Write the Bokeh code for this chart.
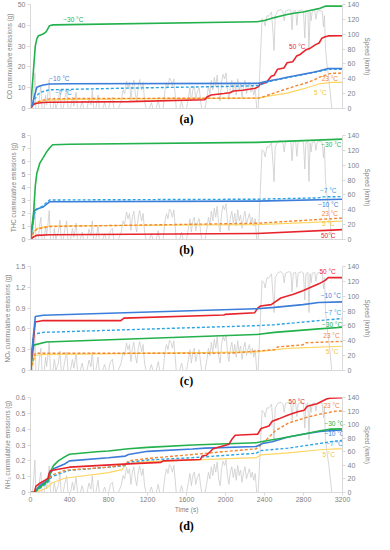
from bokeh.plotting import figure
from bokeh.models import Range1d, LinearAxis, FixedTicker, Label, Title, CustomJSTickFormatter
from bokeh.layouts import column
from bokeh.embed import file_html
from bokeh.resources import INLINE

# ---------------- speed trace (shared by all panels) ----------------
SPEED_T = [0, 20, 35, 45, 55, 80, 95, 107, 118, 140, 155, 165, 180, 192, 205, 230, 245, 260, 285, 302,
           315, 335, 350, 371, 385, 410, 430, 445, 468, 482, 510, 530, 545, 580, 600, 620, 634, 648, 670, 693,
           705, 740, 760, 775, 800, 820, 840, 855, 900, 930, 950, 965, 985, 1000, 1015, 1030, 1045, 1060, 1075, 1090,
           1105, 1120, 1140, 1155, 1170, 1185, 1220, 1240, 1255, 1290, 1310, 1325, 1360, 1380, 1395, 1410, 1425, 1440, 1455, 1470,
           1483, 1495, 1530, 1550, 1565, 1600, 1620, 1635, 1650, 1665, 1680, 1695, 1710, 1730, 1745, 1756, 1790, 1810, 1825, 1840,
           1855, 1870, 1885, 1900, 1915, 1930, 1945, 1960, 1975, 1990, 2005, 2020, 2035, 2050, 2065, 2080, 2095, 2110, 2125, 2140,
           2155, 2170, 2185, 2200, 2215, 2230, 2245, 2260, 2275, 2290, 2305, 2320, 2335, 2355, 2375, 2395, 2407, 2425, 2440, 2472,
           2488, 2498, 2510, 2540, 2570, 2590, 2602, 2615, 2650, 2670, 2683, 2695, 2720, 2732, 2745, 2780, 2800, 2813, 2825, 2845,
           2856, 2868, 2878, 2890, 2915, 2927, 2940, 2970, 2992, 3005, 3015, 3025, 3040, 3060, 3090, 3200]
SPEED = [0, 0, 25, 48, 0, 0, 20, 30, 0, 0, 18, 5, 22, 39, 0, 0, 15, 0, 10, 26,
         0, 0, 12, 25, 0, 0, 15, 3, 22, 0, 0, 10, 0, 0, 14, 5, 25, 0, 0, 18,
         0, 0, 8, 0, 0, 12, 15, 0, 0, 10, 25, 20, 37, 28, 35, 12, 30, 38, 20, 10,
         30, 39, 25, 35, 10, 0, 0, 8, 0, 0, 12, 0, 0, 25, 35, 28, 41, 38, 30, 40,
         20, 0, 0, 10, 0, 0, 15, 28, 10, 25, 30, 12, 22, 28, 10, 0, 0, 15, 30, 20,
         38, 25, 42, 30, 45, 20, 10, 35, 46, 40, 48, 25, 12, 30, 38, 22, 35, 18, 40, 25,
         33, 15, 30, 38, 20, 28, 35, 22, 30, 18, 28, 0, 0, 60, 121, 118, 111, 125, 124, 130,
         100, 78, 125, 132, 133, 130, 118, 131, 133, 132, 106, 131, 132, 112, 131, 133, 131, 95, 130, 132,
         78, 130, 118, 131, 132, 120, 131, 132, 131, 110, 125, 81, 60, 40, 0, 0]

# ---------------- (a) CO ----------------
CO_M30_T = [0, 25, 49, 65, 81, 110, 130, 162, 195, 230, 2323, 2400, 2502, 2567, 2632, 2700, 2794, 2900, 2957, 3022, 3200]
CO_M30 = [0, 15, 30, 33.5, 35, 35.5, 35.8, 37, 39.8, 40.2, 41.7, 42.3, 43.7, 44.5, 45.2, 45.8, 46.4, 47.5, 48, 49.2, 49.2]
CO_M10_T = [0, 20, 40, 65, 97, 130, 195, 400, 2339, 2400, 2469, 2550, 2632, 2700, 2794, 2900, 2957, 3054, 3200]
CO_M10 = [0, 2, 6, 10.2, 10.8, 11.3, 11.8, 11.9, 12.1, 12.8, 13.5, 14.2, 15, 15.6, 16.5, 17.4, 18, 19.2, 19.2]
CO_M7_T = [0, 30, 49, 81, 110, 195, 400, 1000, 2000, 2339, 2400, 2469, 2632, 2794, 2957, 3054, 3200]
CO_M7 = [0, 2.5, 5, 7, 7.9, 9, 9.2, 9.8, 10.6, 11, 12, 13.2, 14.8, 16.3, 17.8, 18.8, 18.8]
CO_P23_T = [0, 32, 65, 130, 195, 400, 2339, 2400, 2469, 2534, 2632, 2729, 2794, 2900, 2957, 3054, 3087, 3200]
CO_P23 = [0, 2, 3, 4, 4.6, 4.8, 5, 5.8, 7, 8, 9.5, 11, 11.8, 13.5, 15, 16.5, 16.9, 17]
CO_P5_T = [0, 32, 65, 130, 195, 400, 2339, 2469, 2632, 2794, 2957, 3087, 3200]
CO_P5 = [0, 2, 3, 3.6, 4, 4.4, 5, 6.2, 7.4, 9.4, 11.8, 12.6, 12.6]
CO_P50_T = [0, 32, 65, 130, 195, 1007, 1787, 1810, 1852, 1982, 2047, 2079, 2177, 2307, 2339, 2356, 2420, 2469, 2500,
            2534, 2600, 2632, 2690, 2729, 2760, 2827, 2870, 2924, 2960, 2989, 3022, 3054, 3200]
CO_P50 = [0, 2, 2.5, 2.9, 3, 3.3, 4.2, 5.5, 6.5, 7.2, 7.6, 8.4, 8.8, 9.7, 10.5, 11.8, 12.5, 15.5, 16,
          18.9, 19.5, 22, 22.5, 25.2, 25.8, 28.3, 29, 30.7, 31.5, 33.8, 34.5, 34.9, 35]

# ---------------- (b) THC ----------------
THC_M30_T = [0, 32, 49, 65, 97, 130, 162, 195, 227, 400, 2323, 3200]
THC_M30 = [0, 2.1, 4.1, 5.1, 5.9, 6.3, 6.7, 7.04, 7.29, 7.33, 7.47, 7.72]
THC_M7_T = [0, 25, 40, 65, 130, 195, 2323, 2950, 3000, 3200]
THC_M7 = [0, 1.2, 2.0, 2.3, 2.6, 3.04, 3.1, 3.2, 3.28, 3.3]
THC_M10_T = [0, 25, 40, 65, 130, 195, 2323, 3200]
THC_M10 = [0, 1.4, 2.2, 2.35, 2.5, 2.9, 2.95, 3.1]
THC_P23_T = [0, 30, 65, 130, 195, 2323, 3200]
THC_P23 = [0, 0.5, 0.8, 0.9, 1.0, 1.25, 1.65]
THC_P5_T = [0, 30, 65, 130, 195, 2323, 3200]
THC_P5 = [0, 0.6, 0.85, 0.95, 1.04, 1.15, 1.42]
THC_P50_T = [0, 30, 65, 195, 2323, 3200]
THC_P50 = [0, 0.2, 0.32, 0.36, 0.46, 0.76]

# ---------------- (c) NOx ----------------
NOX_M10_T = [0, 16, 49, 130, 2323, 2502, 2794, 2957, 3200]
NOX_M10 = [0, 0.3, 0.778, 0.797, 0.89, 0.91, 0.95, 0.98, 0.99]
NOX_P50_T = [0, 16, 49, 130, 926, 958, 1982, 2000, 2300, 2330, 2360, 2469, 2567, 2697, 2794, 2875, 2957, 3022, 3054, 3200]
NOX_P50 = [0, 0.25, 0.70, 0.72, 0.72, 0.755, 0.8, 0.81, 0.834, 0.9, 0.93, 0.95, 1.046, 1.10, 1.15, 1.2, 1.25, 1.30, 1.34, 1.34]
NOX_M7_T = [0, 32, 130, 2323, 2502, 2957, 3200]
NOX_M7 = [0, 0.525, 0.55, 0.647, 0.66, 0.72, 0.75]
NOX_M30_T = [0, 32, 162, 2323, 2502, 2957, 3200]
NOX_M30 = [0, 0.366, 0.41, 0.52, 0.55, 0.6, 0.623]
NOX_P23_T = [0, 49, 2047, 2323, 2502, 2534, 2794, 2827, 3200]
NOX_P23 = [0, 0.248, 0.25, 0.28, 0.30, 0.34, 0.37, 0.40, 0.42]
NOX_P5_T = [0, 49, 130, 2323, 2632, 3200]
NOX_P5 = [0, 0.22, 0.23, 0.27, 0.32, 0.35]

# ---------------- (d) NH3 ----------------
NH3_P50_T = [0, 39, 56, 100, 154, 180, 190, 203, 285, 400, 678, 1005, 1333, 1366, 1742, 1760, 1805, 1873, 2036, 2070,
             2100, 2330, 2365, 2446, 2479, 2545, 2643, 2741, 2807, 2839, 2938, 2970, 3036, 3069, 3200]
NH3_P50 = [0, 0, 0.04, 0.06, 0.08, 0.09, 0.12, 0.137, 0.147, 0.16, 0.17, 0.181, 0.19, 0.2, 0.208, 0.23, 0.235, 0.276, 0.305, 0.34,
           0.362, 0.368, 0.404, 0.42, 0.45, 0.465, 0.49, 0.51, 0.52, 0.545, 0.56, 0.57, 0.59, 0.596, 0.598]
NH3_M30_T = [0, 39, 88, 154, 187, 203, 236, 285, 350, 400, 678, 799, 1005, 1202, 1660, 2315, 2365, 2479, 2545, 2643, 2807, 2970, 3069, 3200]
NH3_M30 = [0, 0, 0.03, 0.06, 0.08, 0.13, 0.17, 0.2, 0.225, 0.242, 0.257, 0.262, 0.276, 0.285, 0.3, 0.314, 0.32, 0.333, 0.34, 0.35, 0.37, 0.39, 0.40, 0.402]
NH3_M10_T = [0, 39, 88, 154, 187, 203, 236, 350, 400, 799, 973, 1005, 1202, 1660, 1791, 2315, 2381, 2479, 2643, 2807, 2970, 3069, 3200]
NH3_M10 = [0, 0, 0.04, 0.07, 0.09, 0.12, 0.15, 0.18, 0.2, 0.219, 0.23, 0.24, 0.26, 0.275, 0.28, 0.291, 0.31, 0.32, 0.35, 0.37, 0.385, 0.39, 0.395]
NH3_M7_T = [0, 39, 105, 170, 187, 219, 350, 400, 799, 973, 1005, 1202, 1660, 2315, 2365, 2643, 2970, 3069, 3200]
NH3_M7 = [0, 0, 0.03, 0.06, 0.07, 0.1, 0.13, 0.14, 0.16, 0.17, 0.19, 0.205, 0.22, 0.248, 0.265, 0.28, 0.31, 0.32, 0.33]
NH3_P23_T = [0, 39, 105, 170, 187, 219, 350, 799, 973, 1005, 1202, 1660, 2315, 2381, 2512, 2643, 2839, 2970, 3134, 3200]
NH3_P23 = [0, 0, 0.04, 0.075, 0.09, 0.11, 0.14, 0.16, 0.175, 0.2, 0.215, 0.24, 0.276, 0.31, 0.39, 0.438, 0.476, 0.495, 0.514, 0.515]
NH3_P5_T = [0, 56, 170, 219, 350, 799, 940, 976, 1202, 2315, 2365, 2643, 2970, 3134, 3200]
NH3_P5 = [0, 0, 0.03, 0.06, 0.09, 0.125, 0.145, 0.18, 0.195, 0.22, 0.238, 0.25, 0.27, 0.276, 0.276]

TIME_TICKS = [0, 400, 800, 1200, 1600, 2000, 2400, 2800, 3200]
SPEED_TICKS = [0, 20, 40, 60, 80, 100, 120, 140]

# ---------------- styling ----------------
GREEN = "#22b14c"
RED = "#e8242b"
BLUE = "#3b7dd8"
LBLUE = "#2ba4e6"
ORANGE = "#f3862e"
YELLOW = "#fdd663"
YELLOW_TXT = "#f5c342"
AXIS_GRAY = "#d9d9d9"
TEXT_GRAY = "#7f7f7f"
FONT = "Liberation Sans"

W = 374
fmt = CustomJSTickFormatter(code="return String(+tick.toFixed(2));")


def panel(height, ymax, yticks, ylabel, caption, series, labels, bottom_labels, border_bottom):
    p = figure(width=W, height=height, x_range=Range1d(0, 3200), y_range=Range1d(0, ymax),
               output_backend="svg", toolbar_location=None,
               min_border_left=22, min_border_right=26, min_border_top=4, min_border_bottom=border_bottom)
    p.title.visible = False
    p.outline_line_color = None
    p.xgrid.visible = False
    p.ygrid.visible = False
    p.extra_y_ranges = {"speed": Range1d(0, 140)}

    # speed trace first (behind)
    p.line(SPEED_T, SPEED, y_range_name="speed", line_color="#cccccc", line_width=0.8)

    for t, v, col, dash, lw in series:
        p.line(t, v, line_color=col, line_dash=dash, line_width=lw)

    for txt, x, y, col in labels:
        p.add_layout(Label(x=x, y=y, text=txt, text_align="center", text_baseline="middle",
                           text_font=FONT, text_font_size="6.5px", text_color=col))

    ya = p.yaxis[0]
    ya.ticker = FixedTicker(ticks=yticks)
    ya.formatter = fmt
    ya.axis_label = ylabel

    ra = LinearAxis(y_range_name="speed", ticker=FixedTicker(ticks=SPEED_TICKS),
                    axis_label="Speed (km/h)")
    p.add_layout(ra, "right")

    for ax in [ya, ra]:
        ax.axis_line_color = AXIS_GRAY
        ax.major_tick_line_color = AXIS_GRAY
        ax.minor_tick_line_color = None
        ax.major_tick_out = 3
        ax.major_tick_in = 0
        ax.major_label_standoff = 2
        ax.major_label_text_font = FONT
        ax.major_label_text_font_size = "7px"
        ax.major_label_text_color = TEXT_GRAY
        ax.axis_label_text_font = FONT
        ax.axis_label_text_font_size = "6.3px"
        ax.axis_label_text_font_style = "normal"
        ax.axis_label_text_color = TEXT_GRAY
        ax.axis_label_standoff = 2

    xa = p.xaxis[0]
    xa.axis_line_color = AXIS_GRAY
    xa.minor_tick_line_color = None
    if bottom_labels:
        xa.ticker = FixedTicker(ticks=TIME_TICKS)
        xa.formatter = fmt
        xa.major_tick_line_color = AXIS_GRAY
        xa.major_tick_out = 3
        xa.major_tick_in = 0
        xa.major_label_standoff = 1
        xa.major_label_text_font = FONT
        xa.major_label_text_font_size = "7px"
        xa.major_label_text_color = TEXT_GRAY
        xa.axis_label = "Time (s)"
        xa.axis_label_text_font = FONT
        xa.axis_label_text_font_size = "6.5px"
        xa.axis_label_text_font_style = "normal"
        xa.axis_label_text_color = TEXT_GRAY
        xa.axis_label_standoff = 1
    else:
        xa.ticker = FixedTicker(ticks=[])
        xa.major_tick_line_color = None
        xa.major_label_standoff = 0
        xa.major_tick_out = 0

    p.add_layout(Title(text=caption, align="center", text_font="Liberation Serif", text_font_style="bold",
                       text_font_size="12px", text_color="#000000", standoff=3), "below")
    return p


SOLID = "solid"
DASH = "3 2"

pa = panel(131, 50, [0, 10, 20, 30, 40, 50], "CO cummulative emissions (g)", "(a)",
           [(CO_P5_T, CO_P5, YELLOW, SOLID, 1.2), (CO_P23_T, CO_P23, ORANGE, DASH, 1.4),
            (CO_P50_T, CO_P50, RED, SOLID, 1.6), (CO_M7_T, CO_M7, LBLUE, DASH, 1.4),
            (CO_M10_T, CO_M10, BLUE, SOLID, 1.6), (CO_M30_T, CO_M30, GREEN, SOLID, 1.6)],
           [("\u221230 \u00b0C", 439, 42.9, GREEN), ("50 \u00b0C", 2736, 29.9, RED),
            ("\u221210 \u00b0C", 296, 14.5, BLUE), ("\u22127 \u00b0C", 338, 7.7, LBLUE),
            ("23 \u00b0C", 3070, 14.6, ORANGE), ("5 \u00b0C", 2973, 7.5, YELLOW_TXT)],
           False, 23)

pb = panel(131, 8, [0, 1, 2, 3, 4, 5, 6, 7, 8], "THC cummulative emissions (g)", "(b)",
           [(THC_P5_T, THC_P5, YELLOW, SOLID, 1.2), (THC_P23_T, THC_P23, ORANGE, DASH, 1.4),
            (THC_P50_T, THC_P50, RED, SOLID, 1.6), (THC_M10_T, THC_M10, BLUE, SOLID, 1.6),
            (THC_M7_T, THC_M7, LBLUE, DASH, 1.4), (THC_M30_T, THC_M30, GREEN, SOLID, 1.6)],
           [("\u221230 \u00b0C", 3086, 7.29, GREEN), ("\u22127 \u00b0C", 3054, 3.8, LBLUE),
            ("\u221210 \u00b0C", 3054, 2.68, BLUE), ("23 \u00b0C", 3070, 1.97, ORANGE),
            ("5 \u00b0C", 3054, 1.2, YELLOW_TXT), ("50\u00b0C", 3054, 0.28, RED)],
           False, 23)

pc = panel(131, 1.5, [0, 0.3, 0.6, 0.9, 1.2, 1.5], "NO\u2093 cummulative emissions (g)", "(c)",
           [(NOX_P5_T, NOX_P5, YELLOW, SOLID, 1.2), (NOX_P23_T, NOX_P23, ORANGE, DASH, 1.4),
            (NOX_M30_T, NOX_M30, GREEN, SOLID, 1.6), (NOX_M7_T, NOX_M7, LBLUE, DASH, 1.4),
            (NOX_P50_T, NOX_P50, RED, SOLID, 1.6), (NOX_M10_T, NOX_M10, BLUE, SOLID, 1.6)],
           [("50 \u00b0C", 3047, 1.435, RED), ("\u221210 \u00b0C", 3080, 1.078, BLUE),
            ("\u22127 \u00b0C", 3103, 0.834, LBLUE), ("\u221230 \u00b0C", 3093, 0.661, GREEN),
            ("23 \u00b0C", 3087, 0.506, ORANGE), ("5 \u00b0C", 3093, 0.272, YELLOW_TXT)],
           False, 23)

pd_ = panel(141, 0.6, [0, 0.1, 0.2, 0.3, 0.4, 0.5, 0.6], "NH\u2083 cummulative emissions (g)", "(d)",
            [(NH3_P5_T, NH3_P5, YELLOW, SOLID, 1.2), (NH3_M7_T, NH3_M7, LBLUE, DASH, 1.4),
             (NH3_P23_T, NH3_P23, ORANGE, DASH, 1.4), (NH3_M10_T, NH3_M10, BLUE, SOLID, 1.6),
             (NH3_M30_T, NH3_M30, GREEN, SOLID, 1.6), (NH3_P50_T, NH3_P50, RED, SOLID, 1.6)],
            [("50 \u00b0C", 2731, 0.577, RED), ("23 \u00b0C", 3088, 0.547, ORANGE),
             ("\u221230 \u00b0C", 3118, 0.434, GREEN), ("\u221210 \u00b0C", 3118, 0.371, BLUE),
             ("\u22127 \u00b0C", 3118, 0.309, LBLUE), ("5 \u00b0C", 3059, 0.238, YELLOW_TXT)],
            True, 34)

layout = column(pa, pb, pc, pd_, spacing=0)
open("out.html", "w").write(file_html(layout, INLINE))
